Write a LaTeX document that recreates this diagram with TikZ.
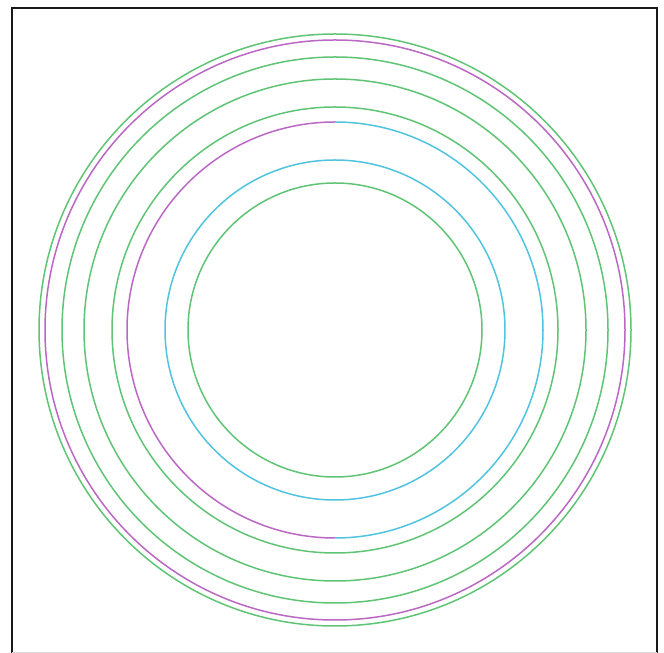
\documentclass[tikz,border=0pt]{standalone}
\definecolor{ringgreen}{RGB}{96,196,118}
\definecolor{ringpurple}{RGB}{186,104,196}
\definecolor{ringblue}{RGB}{80,196,222}
\tikzset{ring/.style={line width=1.5pt}}
\begin{document}
\begin{tikzpicture}[x=1pt,y=1pt]
\useasboundingbox (0,0) rectangle (664,653);
\fill[white] (0,0) rectangle (664,653);
% frame
\draw[line width=2pt,black!90] (12,0) -- (12,645) -- (657,645) -- (657,0);
\draw[line width=1pt,black!15] (12,0.5) -- (657,0.5);
\coordinate (c) at (335,323);
\draw[ring,ringgreen] (c) circle[radius=296];
\draw[ring,ringpurple] (c) circle[radius=290];
\draw[ring,ringgreen] (c) circle[radius=273];
\draw[ring,ringgreen] (c) circle[radius=251];
\draw[ring,ringgreen] (c) circle[radius=223];
\draw[ring,ringpurple] ([yshift=208]c) arc[start angle=90,end angle=270,radius=208];
\draw[ring,ringblue] ([yshift=-208]c) arc[start angle=-90,end angle=90,radius=208];
\draw[ring,ringblue] (c) circle[radius=170];
\draw[ring,ringgreen] (c) circle[radius=147];
\end{tikzpicture}
\end{document}
